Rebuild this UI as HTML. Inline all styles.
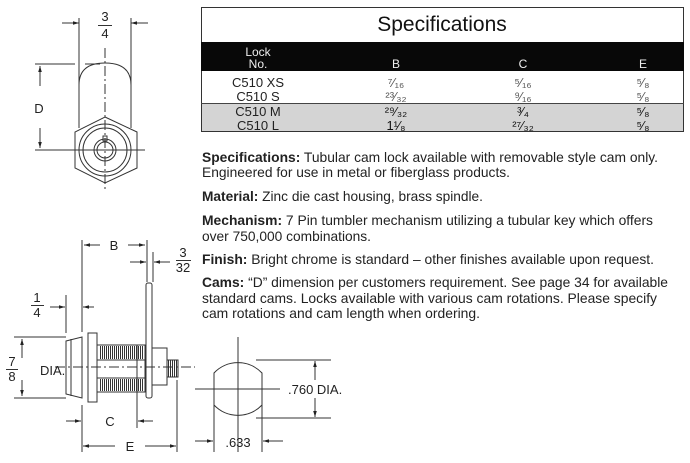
<!DOCTYPE html>
<html><head><meta charset="utf-8"><style>
html,body{margin:0;padding:0;background:#fff;}
svg{display:block;font-family:"Liberation Sans",Arial,sans-serif;}
</style></head><body>
<svg width="690" height="463" viewBox="0 0 690 463" xmlns="http://www.w3.org/2000/svg">
<defs>
<marker id="a" viewBox="0 0 10 10" refX="10" refY="5" markerWidth="6" markerHeight="6" orient="auto-start-reverse"><path d="M0,2 L10,5 L0,8 z" fill="#222"/></marker>
<pattern id="th" width="2" height="4" patternUnits="userSpaceOnUse"><rect width="2" height="4" fill="#fff"/><rect width="1" height="4" fill="#333"/></pattern>
</defs>
<!-- table -->
<rect x="201.5" y="7.5" width="482" height="124" fill="#fff" stroke="#333"/>
<text x="442" y="31" font-size="21" text-anchor="middle" fill="#111">Specifications</text>
<rect x="201" y="42" width="483" height="29" fill="#080808"/>
<text x="258" y="56" font-size="12" fill="#eee" text-anchor="middle">Lock</text>
<text x="258" y="68" font-size="12" fill="#eee" text-anchor="middle">No.</text>
<text x="396" y="68" font-size="12" fill="#eee" text-anchor="middle">B</text>
<text x="523" y="68" font-size="12" fill="#eee" text-anchor="middle">C</text>
<text x="643" y="68" font-size="12" fill="#eee" text-anchor="middle">E</text>
<rect x="202" y="103" width="481" height="28" fill="#d4d4d4"/>
<line x1="201" y1="103.5" x2="684" y2="103.5" stroke="#444"/>
<g font-size="13" fill="#222" text-anchor="middle">
<text x="258" y="87">C510 XS</text><text x="258" y="101">C510 S</text>
<text x="258" y="116">C510 M</text><text x="258" y="130">C510 L</text>
</g>
<g font-size="13" fill="#555" text-anchor="middle">
<text x="396" y="87">⁷⁄₁₆</text><text x="396" y="101">²³⁄₃₂</text>
<text x="523" y="87">⁵⁄₁₆</text><text x="523" y="101">⁹⁄₁₆</text>
<text x="643" y="87">⁵⁄₈</text><text x="643" y="101">⁵⁄₈</text>
</g>
<g font-size="13" fill="#111" text-anchor="middle">
<text x="396" y="116">²⁹⁄₃₂</text><text x="396" y="130">1¹⁄₈</text>
<text x="523" y="116">³⁄₄</text><text x="523" y="130">²⁷⁄₃₂</text>
<text x="643" y="116">⁵⁄₈</text><text x="643" y="130">⁵⁄₈</text>
</g>
<!-- paragraphs -->
<g font-size="14" fill="#222">
<text x="202" y="162" textLength="456" lengthAdjust="spacingAndGlyphs"><tspan font-weight="bold">Specifications:</tspan> Tubular cam lock available with removable style cam only.</text>
<text x="202" y="177" textLength="308" lengthAdjust="spacingAndGlyphs">Engineered for use in metal or fiberglass products.</text>
<text x="202" y="201" textLength="281" lengthAdjust="spacingAndGlyphs"><tspan font-weight="bold">Material:</tspan> Zinc die cast housing, brass spindle.</text>
<text x="202" y="225" textLength="451" lengthAdjust="spacingAndGlyphs"><tspan font-weight="bold">Mechanism:</tspan> 7 Pin tumbler mechanism utilizing a tubular key which offers</text>
<text x="202" y="241" textLength="169" lengthAdjust="spacingAndGlyphs">over 750,000 combinations.</text>
<text x="202" y="264" textLength="452" lengthAdjust="spacingAndGlyphs"><tspan font-weight="bold">Finish:</tspan> Bright chrome is standard – other finishes available upon request.</text>
<text x="202" y="287" textLength="466" lengthAdjust="spacingAndGlyphs"><tspan font-weight="bold">Cams:</tspan> “D” dimension per customers requirement. See page 34 for available</text>
<text x="202" y="303" textLength="455" lengthAdjust="spacingAndGlyphs">standard cams. Locks available with various cam rotations. Please specify</text>
<text x="202" y="318" textLength="278" lengthAdjust="spacingAndGlyphs">cam rotations and cam length when ordering.</text>
</g>
<!-- top drawing -->
<g stroke="#333" fill="none" stroke-width="1">
<line x1="79" y1="18" x2="79" y2="128"/><line x1="131" y1="18" x2="131" y2="128"/>
<line x1="62" y1="23" x2="79" y2="23" marker-end="url(#a)"/><line x1="148" y1="23" x2="131" y2="23" marker-end="url(#a)"/>
<line x1="98" y1="25.5" x2="112" y2="25.5"/>
<path d="M79,85 Q79,63 105,63 Q131,63 131,85"/>
<path d="M105,117 L137,132 L137,168 L105,183 L75,168 L75,132 Z"/>
<circle cx="105" cy="150" r="26"/><circle cx="105" cy="150" r="22"/>
<circle cx="105" cy="150" r="11"/><circle cx="105" cy="150" r="8"/>
<rect x="103" y="136" width="4" height="5"/>
<line x1="105" y1="48" x2="105" y2="190" stroke-dasharray="10,3,2,3"/>
<line x1="35" y1="150" x2="145" y2="150"/>
<line x1="35" y1="64" x2="75" y2="64"/><line x1="85" y1="64" x2="100" y2="64"/>
<line x1="40" y1="86" x2="40" y2="66" marker-end="url(#a)"/><line x1="40" y1="128" x2="40" y2="148" marker-end="url(#a)"/>
</g>
<g font-size="13" fill="#222" text-anchor="middle">
<text x="105" y="21">3</text><text x="105" y="38">4</text>
<text x="39" y="113">D</text>
</g>
<!-- bottom drawing -->
<g stroke="#333" fill="none" stroke-width="1">
<line x1="82" y1="240" x2="82" y2="332"/><line x1="147" y1="240" x2="147" y2="282"/><line x1="153" y1="252" x2="153" y2="282"/>
<line x1="100" y1="245" x2="84" y2="245" marker-end="url(#a)"/><line x1="128" y1="245" x2="145" y2="245" marker-end="url(#a)"/>
<line x1="130" y1="262" x2="146" y2="262" marker-end="url(#a)"/><line x1="170" y1="262" x2="154" y2="262" marker-end="url(#a)"/>
<line x1="176" y1="260.5" x2="191" y2="260.5"/>
<line x1="66" y1="295" x2="66" y2="333"/>
<line x1="50" y1="307" x2="65" y2="307" marker-end="url(#a)"/><line x1="94" y1="307" x2="83" y2="307" marker-end="url(#a)"/>
<line x1="31" y1="305.5" x2="44" y2="305.5"/>
<line x1="14" y1="337" x2="66" y2="337"/><line x1="14" y1="398" x2="66" y2="398"/>
<line x1="22" y1="358" x2="22" y2="339" marker-end="url(#a)"/><line x1="22" y1="380" x2="22" y2="396" marker-end="url(#a)"/>
<line x1="6" y1="369.5" x2="18" y2="369.5"/>
<path d="M66,341 L82,337 L82,398 L66,394 Z" fill="#fff"/>
<line x1="71" y1="339" x2="71" y2="396"/>
<rect x="88" y="333" width="9" height="69" fill="#fff"/>
<rect x="97" y="345" width="48" height="47" fill="#fff"/>
<rect x="99" y="346" width="44" height="13" fill="url(#th)" stroke="none"/>
<rect x="99" y="379" width="44" height="12" fill="url(#th)" stroke="none"/>
<line x1="97" y1="360" x2="145" y2="360"/><line x1="97" y1="378" x2="145" y2="378"/>
<rect x="146" y="283" width="6" height="115" rx="2" fill="#fff"/>
<rect x="152" y="348" width="15" height="37" fill="#fff"/>
<rect x="167" y="360" width="11" height="17" fill="url(#th)"/>
<line x1="55" y1="367" x2="195" y2="367" stroke-dasharray="10,3,2,3"/>
<line x1="82" y1="405" x2="82" y2="452"/><line x1="137" y1="345" x2="137" y2="428"/><line x1="177" y1="380" x2="177" y2="452"/>
<line x1="66" y1="421" x2="81" y2="421" marker-end="url(#a)"/><line x1="153" y1="421" x2="138" y2="421" marker-end="url(#a)"/>
<line x1="115" y1="446" x2="83" y2="446" marker-end="url(#a)"/><line x1="145" y1="446" x2="176" y2="446" marker-end="url(#a)"/>
<!-- cam -->
<path d="M214,373 A33,33 0 0 1 262,373 L262,405 A33,33 0 0 1 214,405 Z" fill="#fff"/>
<line x1="238" y1="337" x2="238" y2="452"/><line x1="195" y1="389" x2="280" y2="389"/>
<line x1="214" y1="405" x2="214" y2="452"/><line x1="262" y1="405" x2="262" y2="452"/>
<line x1="256" y1="360" x2="331" y2="360"/><line x1="256" y1="418" x2="331" y2="418"/>
<line x1="315" y1="380" x2="315" y2="361" marker-end="url(#a)"/><line x1="315" y1="398" x2="315" y2="417" marker-end="url(#a)"/>
<line x1="195" y1="441" x2="213" y2="441" marker-end="url(#a)"/><line x1="283" y1="441" x2="263" y2="441" marker-end="url(#a)"/>
</g>
<g font-size="13" fill="#222" text-anchor="middle">
<text x="114" y="250">B</text>
<text x="183" y="257">3</text><text x="183" y="272">32</text>
<text x="37" y="302">1</text><text x="37" y="317">4</text>
<text x="12" y="366">7</text><text x="12" y="381">8</text>
<text x="40" y="375" text-anchor="start">DIA.</text>
<text x="110" y="426">C</text>
<text x="130" y="451">E</text>
<text x="288" y="394" text-anchor="start">.760 DIA.</text>
<text x="238" y="447">.633</text>
</g>
</svg>
</body></html>
